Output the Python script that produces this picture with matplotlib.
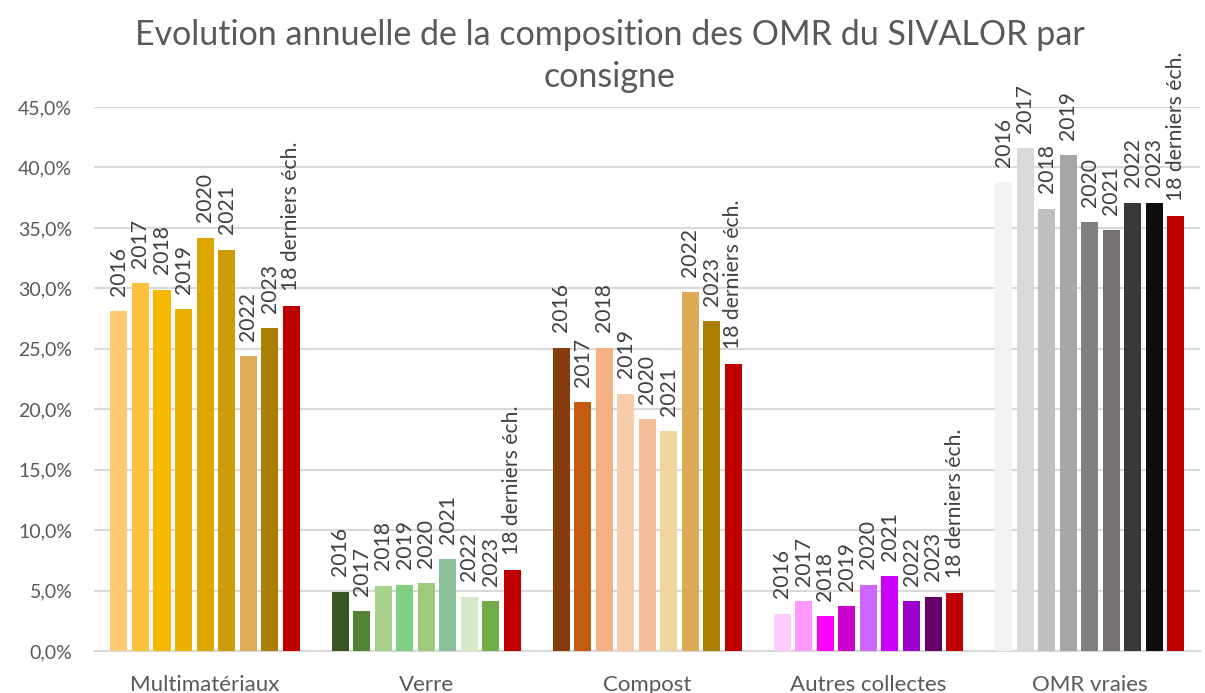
import numpy as np
import matplotlib
matplotlib.use('Agg')
import matplotlib.pyplot as plt
from matplotlib.ticker import FuncFormatter

plt.rcParams['font.family'] = ['Lato', 'DejaVu Sans']

categories = ['Multimatériaux', 'Verre', 'Compost', 'Autres collectes', 'OMR vraies']
series = ['2016', '2017', '2018', '2019', '2020', '2021', '2022', '2023', '18 derniers éch.']

# valeurs en % par catégorie (une liste par série / année)
multimateriaux = [28.1, 30.4, 29.9, 28.3, 34.2, 33.2, 24.4, 26.7, 28.5]
verre = [4.9, 3.3, 5.4, 5.5, 5.6, 7.6, 4.5, 4.1, 6.7]
compost = [25.1, 20.6, 25.1, 21.3, 19.2, 18.2, 29.7, 27.3, 23.7]
autres = [3.1, 4.1, 2.9, 3.7, 5.5, 6.2, 4.1, 4.5, 4.8]
omr_vraies = [38.8, 41.6, 36.6, 41.0, 35.5, 34.8, 37.1, 37.1, 36.0]

couleurs = [
    ['#FFCA6F', '#FCC23E', '#F7B900', '#EAAF00', '#DDA600', '#CE9C06', '#DEAB56', '#AB7F00', '#C00000'],
    ['#375623', '#548235', '#A9D18E', '#7FD083', '#9CCB7C', '#8AC09A', '#D5E8C8', '#70AD47', '#C00000'],
    ['#843C0C', '#C55A11', '#F4B183', '#F8CBAD', '#F6BE98', '#F0D5A0', '#DDAA55', '#AB7F00', '#C00000'],
    ['#FFCCFF', '#FF99FF', '#FF00FF', '#CC00CC', '#CC66FF', '#CC00FF', '#9900CC', '#660066', '#C00000'],
    ['#F2F2F2', '#D9D9D9', '#BFBFBF', '#A6A6A6', '#808080', '#767171', '#3B3838', '#0D0D0D', '#C00000'],
]

donnees = [multimateriaux, verre, compost, autres, omr_vraies]

fig = plt.figure(figsize=(12.05, 6.93), dpi=100)
fig.set_facecolor('white')
ax = fig.add_axes([0.0784, 0.0606, 0.9176, 0.785])

pas = 0.0973
largeur = 0.077
x = np.arange(len(categories))

for c in range(len(categories)):
    for i in range(len(series)):
        pos = x[c] + (i - (len(series) - 1) / 2) * pas
        val = donnees[c][i] / 100
        ax.bar(pos, val, largeur, color=couleurs[c][i], zorder=3)
        ax.annotate(series[i], (pos, val), xytext=(0, 11), textcoords='offset points',
                    rotation=90, ha='center', va='bottom', fontsize=15.2,
                    color='#404040', annotation_clip=False, clip_on=False)

ax.set_xlim(-0.5, len(categories) - 0.5)
ax.set_ylim(0, 0.45)
ax.set_yticks(np.arange(0, 0.451, 0.05))
ax.yaxis.set_major_formatter(FuncFormatter(lambda v, p: f"{v*100:.1f}%".replace('.', ',')))
ax.set_xticks(x)
ax.set_xticklabels(categories)

ax.grid(axis='y', color='#D9D9D9', linewidth=1.5, zorder=0)
for s in ['top', 'right', 'left']:
    ax.spines[s].set_visible(False)
ax.spines['bottom'].set_color('#D9D9D9')
ax.spines['bottom'].set_linewidth(1.5)
ax.tick_params(axis='both', length=0, labelcolor='#595959')
ax.tick_params(axis='x', pad=17, labelsize=16)
ax.tick_params(axis='y', pad=16, labelsize=14)

fig.text(0.506, 0.950, 'Evolution annuelle de la composition des OMR du SIVALOR par',
         ha='center', va='center', fontsize=24.5, color='#595959')
fig.text(0.506, 0.889, 'consigne', ha='center', va='center', fontsize=24.5, color='#595959')

fig.savefig('out.png', dpi=100)
